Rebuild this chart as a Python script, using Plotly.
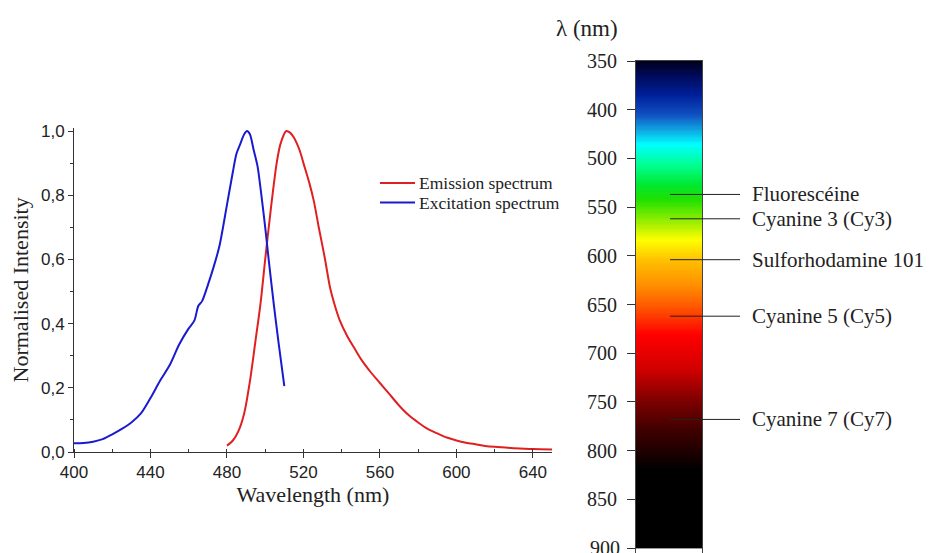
import numpy as np
import plotly.graph_objects as go

# ---------------- data ----------------
exc_wl = [400, 405, 410, 415, 420, 425, 430, 435, 440, 445, 450, 455, 460, 463, 465, 467,
          470, 473, 476, 480, 483, 485, 487, 489, 490.5, 492, 494, 496, 498, 500, 502,
          504.5, 507, 510]
exc_int = [0.027, 0.028, 0.032, 0.040, 0.055, 0.072, 0.092, 0.120, 0.168, 0.222, 0.270,
           0.335, 0.385, 0.410, 0.455, 0.470, 0.520, 0.576, 0.640, 0.770, 0.870, 0.930,
           0.960, 0.990, 1.000, 0.990, 0.940, 0.890, 0.800, 0.700, 0.590, 0.460, 0.340, 0.205]

em_wl = [480, 483, 486, 489, 492, 495, 497.5, 500, 503, 506, 508, 511, 513, 515, 518, 520,
         523, 525.5, 528, 531, 534, 536, 539, 543, 547, 550, 555, 560, 565, 570, 575, 580,
         585, 590, 595, 600, 605, 610, 615, 620, 630, 640, 650]
em_int = [0.020, 0.035, 0.065, 0.120, 0.220, 0.350, 0.460, 0.600, 0.760, 0.900, 0.960,
          1.000, 0.995, 0.980, 0.940, 0.900, 0.840, 0.780, 0.700, 0.610, 0.510, 0.465,
          0.410, 0.360, 0.320, 0.290, 0.250, 0.215, 0.180, 0.145, 0.115, 0.092, 0.072,
          0.058, 0.045, 0.036, 0.029, 0.024, 0.019, 0.016, 0.012, 0.009, 0.008]

series_names = ["Emission spectrum", "Excitation spectrum"]
series_colors = ["#e02020", "#1a1ad0"]

x_ticks = [400, 440, 480, 520, 560, 600, 640]
y_ticks = [0.0, 0.2, 0.4, 0.6, 0.8, 1.0]
y_tick_text = ["0,0", "0,2", "0,4", "0,6", "0,8", "1,0"]

bar_tick_labels = [350, 400, 500, 550, 600, 650, 700, 750, 800, 850, 900]

dye_names = ["Fluorescéine", "Cyanine 3 (Cy3)", "Sulforhodamine 101", "Cyanine 5 (Cy5)",
             "Cyanine 7 (Cy7)"]
dye_wl = [537, 562, 604, 662, 768]

# gradient colour stops (fraction along bar from top, colour)
grad_stops = [
    (0.000, "#000018"), (0.030, "#000a5a"), (0.070, "#00209a"), (0.110, "#1050c0"),
    (0.140, "#10a0e0"), (0.172, "#00ffff"), (0.214, "#00ff90"), (0.255, "#00e830"),
    (0.285, "#20e000"), (0.336, "#a8f000"), (0.368, "#ffff00"), (0.410, "#ffc000"),
    (0.460, "#ff9000"), (0.510, "#ff5000"), (0.563, "#ff0000"), (0.634, "#d00000"),
    (0.696, "#800000"), (0.758, "#400000"), (0.820, "#100000"), (0.840, "#000000"),
    (1.000, "#000000"),
]

W, H = 938, 553


def px(x):
    return x / W


def py(y):
    return 1 - y / H


# ---------------- figure ----------------
fig = go.Figure()

for xs, ys, nm, col in [(em_wl, em_int, series_names[0], series_colors[0]),
                        (exc_wl, exc_int, series_names[1], series_colors[1])]:
    fig.add_trace(go.Scatter(x=xs, y=ys, mode="lines", name=nm, showlegend=False,
                             line=dict(color=col, width=2, shape="spline", smoothing=0.8),
                             xaxis="x", yaxis="y"))

n_idx = len(bar_tick_labels) - 1
pos = np.linspace(0, n_idx, 400)
fig.add_trace(go.Heatmap(
    z=[[p] for p in pos], x=[0], y=pos,
    colorscale=[[s, c] for s, c in grad_stops], zmin=0, zmax=n_idx,
    showscale=False, hoverinfo="skip", xaxis="x2", yaxis="y2"))

serif = "Liberation Serif, Times New Roman, serif"
sans = "Liberation Sans, Arial, sans-serif"

# bar: index 0 at y=61px, index 10 at y=548px -> clipped at figure bottom
per_idx = (548 - 61) / n_idx
bottom_idx = n_idx - (548 - H) / per_idx
bar_top = py(61)

fig.update_layout(
    width=W, height=H,
    margin=dict(l=0, r=0, t=0, b=0, autoexpand=False),
    paper_bgcolor="white", plot_bgcolor="white",
    showlegend=False,
    xaxis=dict(domain=[px(74), px(552)], range=[400, 650], tickvals=x_ticks,
               showline=True, linecolor="#333", linewidth=1, ticks="outside",
               ticklen=5, tickcolor="#333", showgrid=False, zeroline=False,
               minor=dict(ticks="inside", ticklen=3, dtick=20, tickcolor="#333"),
               tickfont=dict(family=sans, size=17, color="#222"), automargin=False,
               title=dict(text="Wavelength (nm)", font=dict(family=serif, size=22, color="#222"),
                          standoff=2),
               anchor="y"),
    yaxis=dict(domain=[py(452), py(127.8)], range=[0, 1.01], tickvals=y_ticks,
               ticktext=y_tick_text, showline=True, linecolor="#333", linewidth=1,
               ticks="outside", ticklen=5, tickcolor="#333", showgrid=False,
               zeroline=False, automargin=False,
               minor=dict(ticks="outside", ticklen=3, dtick=0.1, tickcolor="#333"),
               tickfont=dict(family=sans, size=17, color="#222"),
               title=dict(text="Normalised Intensity",
                          font=dict(family=serif, size=22, color="#222"), standoff=6),
               anchor="x"),
    xaxis2=dict(domain=[px(636), px(702)], range=[-0.5, 0.5], showticklabels=False,
                showline=True, mirror=True, linecolor="#444", linewidth=1, automargin=False,
                showgrid=False, zeroline=False, ticks="", anchor="y2"),
    yaxis2=dict(domain=[0, bar_top], range=[bottom_idx, 0],
                tickvals=list(range(len(bar_tick_labels))),
                ticktext=[str(v) for v in bar_tick_labels],
                showline=True, mirror=True, linecolor="#444", linewidth=1,
                ticks="outside", ticklen=8, tickcolor="#333", showgrid=False,
                zeroline=False, tickfont=dict(family=serif, size=20, color="#222"),
                ticklabelstandoff=6, automargin=False, anchor="x2"),
)

# manual legend (compact rows as in the reference)
for i, (nm, col) in enumerate(zip(series_names, series_colors)):
    yy = py(183 + 19.5 * i)
    fig.add_shape(type="line", xref="paper", yref="paper", x0=px(380), x1=px(415),
                  y0=yy, y1=yy, line=dict(color=col, width=2))
    fig.add_annotation(xref="paper", yref="paper", x=px(417), y=yy, text=nm,
                       showarrow=False, xanchor="left", yanchor="middle",
                       font=dict(family=serif, size=17.5, color="#222"))

# last bar tick label (900) lies just past the figure edge -> partially cut text
last_idx = len(bar_tick_labels) - 1
last_y = bar_top * (1 - last_idx / bottom_idx)
fig.add_annotation(xref="paper", yref="paper", x=px(622), y=last_y,
                   text=str(bar_tick_labels[-1]), showarrow=False, xanchor="right",
                   yanchor="middle", font=dict(family=serif, size=20, color="#222"))

# dye markers
dye_pos = np.interp(dye_wl, bar_tick_labels, list(range(len(bar_tick_labels))))
for name, p in zip(dye_names, dye_pos):
    fig.add_shape(type="line", xref="paper", yref="y2", x0=px(670), x1=px(740),
                  y0=p, y1=p, line=dict(color="#222", width=1))
    fig.add_annotation(xref="paper", yref="y2", x=px(750), y=p, text=name,
                       showarrow=False, xanchor="left", yanchor="middle",
                       font=dict(family=serif, size=21, color="#222"))

fig.add_annotation(xref="paper", yref="paper", x=px(587), y=py(28),
                   text="λ (nm)", showarrow=False, xanchor="center", yanchor="middle",
                   font=dict(family=serif, size=23, color="#222"))

fig.write_html("out.html", config={"displayModeBar": False},
               post_script="document.body.style.margin='0';"
               "document.body.style.padding='0';document.body.style.overflow='hidden';")
